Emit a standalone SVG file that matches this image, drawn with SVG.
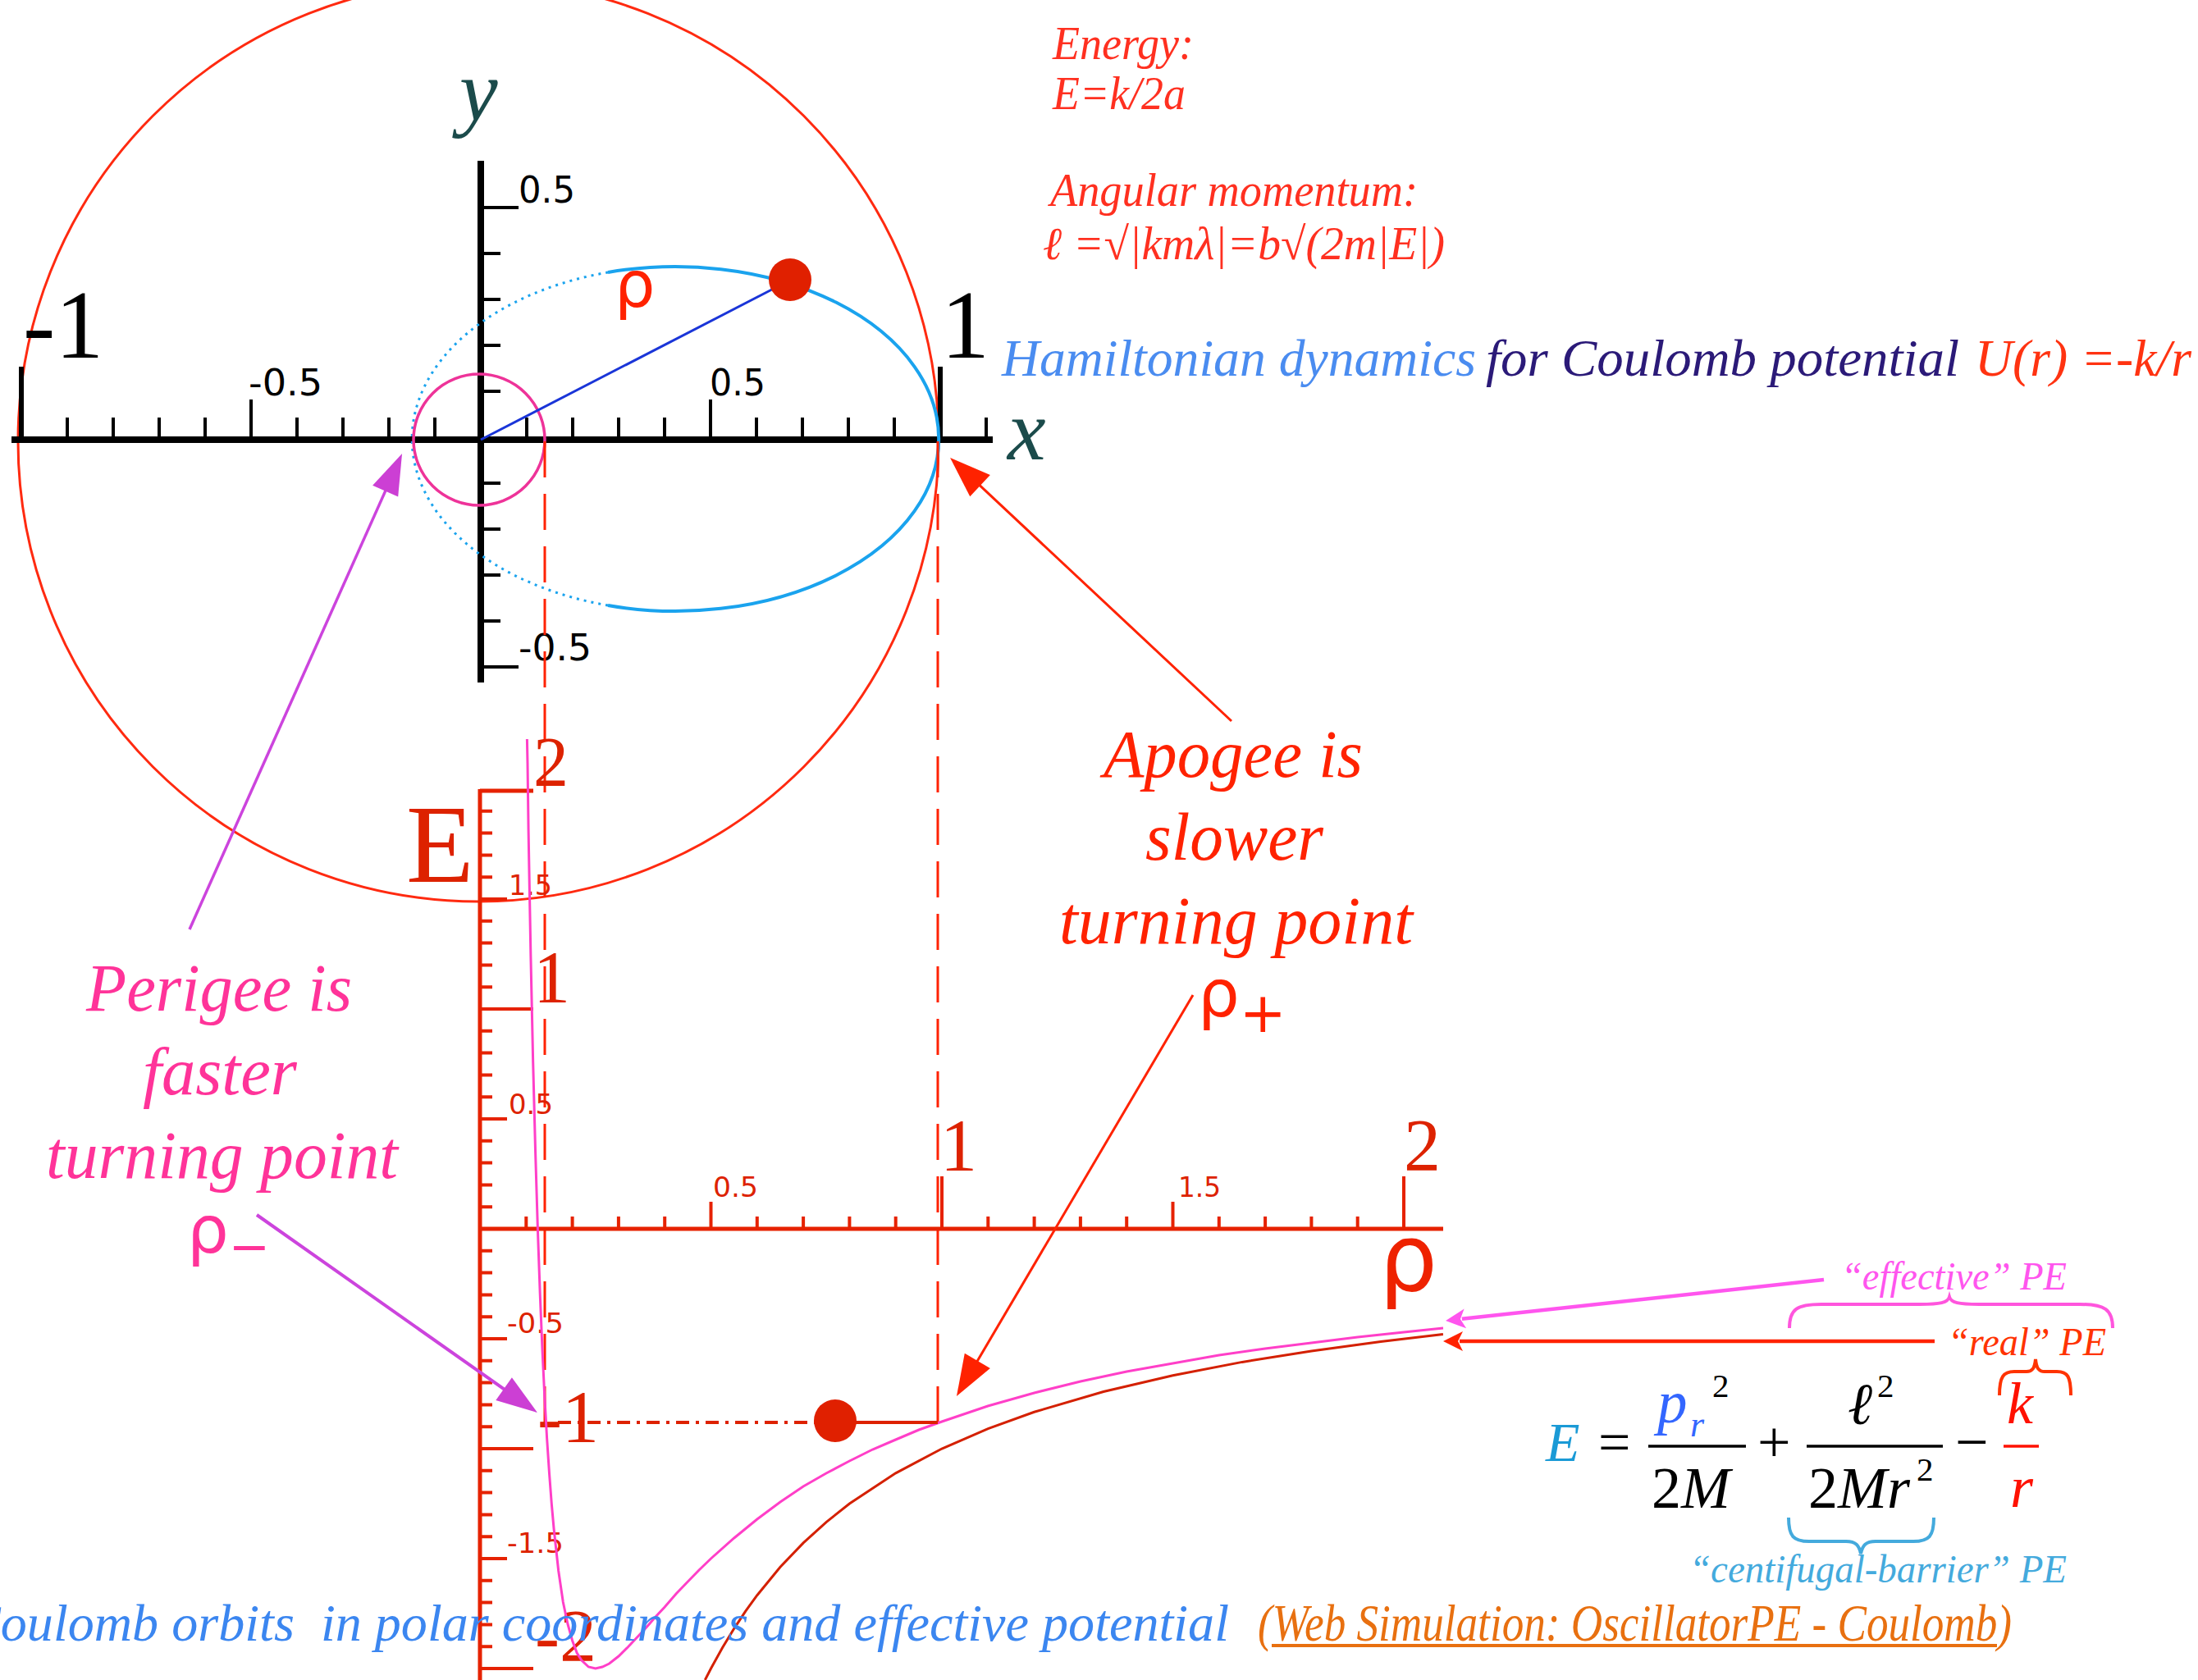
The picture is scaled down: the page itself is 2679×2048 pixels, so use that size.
<svg xmlns="http://www.w3.org/2000/svg" width="2679" height="2048" viewBox="0 0 2679 2048">
<style>
.ser{font-family:"Liberation Serif","Times New Roman",serif}
.it{font-family:"Liberation Serif","Times New Roman",serif;font-style:italic}
.sans{font-family:"DejaVu Sans","Liberation Sans",sans-serif}
.tk{fill:none;stroke:#000;stroke-width:4}
.rtk{fill:none;stroke:#e62200;stroke-width:4}
.lbl{font-family:"DejaVu Sans","Liberation Sans",sans-serif;fill:#000}
.rlbl{font-family:"DejaVu Sans","Liberation Sans",sans-serif;fill:#dd2200}
.big{font-family:"Liberation Serif","Times New Roman",serif;fill:#dd2200}
.dash{fill:none;stroke:#ff2200;stroke-width:3;stroke-dasharray:44 20}
</style>
<defs>
<marker id="hMag" markerUnits="userSpaceOnUse" markerWidth="60" markerHeight="40" viewBox="-6 -20 60 40" refX="0" refY="0" orient="auto" overflow="visible"><path d="M45,0 L-5,-17 L-5,17 Z" fill="#cc3fd4"/></marker>
<marker id="hRed" markerUnits="userSpaceOnUse" markerWidth="60" markerHeight="40" viewBox="-6 -20 60 40" refX="0" refY="0" orient="auto" overflow="visible"><path d="M45,0 L-5,-18 L-5,18 Z" fill="#ff2200"/></marker>
<marker id="sMag" markerUnits="userSpaceOnUse" markerWidth="30" markerHeight="30" viewBox="-6 -15 30 30" refX="0" refY="0" orient="auto" overflow="visible"><path d="M20,0 L-4,-12 L2,0 L-4,12 Z" fill="#ff55ee"/></marker>
<marker id="sRed" markerUnits="userSpaceOnUse" markerWidth="30" markerHeight="30" viewBox="-6 -15 30 30" refX="0" refY="0" orient="auto" overflow="visible"><path d="M20,0 L-4,-12 L2,0 L-4,12 Z" fill="#ff2200"/></marker>
</defs>
<rect width="2679" height="2048" fill="#fff"/>

<!-- Orbit plot -->
<g id="orbit-plot">
  <circle cx="583" cy="538" r="561" fill="none" stroke="#ff2a10" stroke-width="3"/>
  <path d="M14,536 H1210 M586,196 V832" stroke="#000" stroke-width="8" fill="none"/>
  <path class="tk" d="M82,532V509M138,532V509M194,532V509M250,532V509M362,532V509M418,532V509M474,532V509M530,532V509M642,532V509M698,532V509M754,532V509M810,532V509M922,532V509M978,532V509M1034,532V509M1090,532V509M1202,532V509M306,532V487M866,532V487"/>
  <path d="M26,536V447M1146,536V447" stroke="#000" stroke-width="6"/>
  <path class="tk" d="M586,309H610M586,365H610M586,421H610M586,477H610M586,589H610M586,645H610M586,701H610M586,757H610M586,253H632M586,813H632"/>
  <text class="lbl" x="632" y="247" font-size="45" textLength="69" lengthAdjust="spacingAndGlyphs">0.5</text>
  <text class="lbl" x="632" y="805" font-size="45" textLength="89" lengthAdjust="spacingAndGlyphs">-0.5</text>
  <text class="lbl" x="303" y="482" font-size="45" textLength="90" lengthAdjust="spacingAndGlyphs">-0.5</text>
  <text class="lbl" x="865" y="482" font-size="45" textLength="68" lengthAdjust="spacingAndGlyphs">0.5</text>
  <text class="ser" x="28" y="436" font-size="118" fill="#000">-1</text>
  <text class="ser" x="1147" y="436" font-size="118" fill="#000">1</text>
  <text class="it" x="560" y="146" font-size="105" fill="#1b4b4b">y</text>
  <text class="it" x="1228" y="560" font-size="105" fill="#1b4b4b">x</text>
  <path d="M741,332 A321,210 0 1 1 741,738" fill="none" stroke="#1aa3ee" stroke-width="4"/>
  <path d="M741,738 A321,210 0 0 1 741,332" fill="none" stroke="#1aa3ee" stroke-width="3" stroke-dasharray="3 6"/>
  <circle cx="584" cy="536" r="80" fill="none" stroke="#ee3399" stroke-width="3.5"/>
  <line x1="586" y1="536" x2="962" y2="342" stroke="#1a35d8" stroke-width="3"/>
  <circle cx="963" cy="341" r="26" fill="#e02000"/>
  <text class="sans" x="749" y="374" font-size="78" fill="#ff2200">ρ</text>
</g>

<!-- Potential plot -->
<g id="potential-plot">
  <path d="M664,538V1734M1143,538V1734" class="dash"/>
  <path d="M585,962V2048M585,1498H1759M585,964H650" stroke="#e62200" stroke-width="5" fill="none"/>
  <path class="rtk" d="M585,988.8H600M585,1015.6H600M585,1042.4H600M585,1069.2H600M585,1096H618M585,1122.8H600M585,1149.6H600M585,1176.4H600M585,1203.2H600M585,1230H650M585,1256.8H600M585,1283.6H600M585,1310.4H600M585,1337.2H600M585,1364H618M585,1390.8H600M585,1417.6H600M585,1444.4H600M585,1471.2H600M585,1524.8H600M585,1551.6H600M585,1578.4H600M585,1605.2H600M585,1632H618M585,1658.8H600M585,1685.6H600M585,1712.4H600M585,1739.2H600M585,1766H650M585,1792.8H600M585,1819.6H600M585,1846.4H600M585,1873.2H600M585,1900H618M585,1926.8H600M585,1953.6H600M585,1980.4H600M585,2007.2H600M585,2034H650"/>
  <path class="rtk" d="M641.3,1498V1483M697.6,1498V1483M753.9,1498V1483M810.2,1498V1483M866.5,1498V1465M922.8,1498V1483M979.1,1498V1483M1035.4,1498V1483M1091.7,1498V1483M1148,1498V1434M1204.3,1498V1483M1260.6,1498V1483M1316.9,1498V1483M1373.2,1498V1483M1429.5,1498V1465M1485.8,1498V1483M1542.1,1498V1483M1598.4,1498V1483M1654.7,1498V1483M1711,1498V1434"/>
  <text class="rlbl" x="869" y="1459" font-size="33" textLength="55" lengthAdjust="spacingAndGlyphs">0.5</text>
  <text class="rlbl" x="1436" y="1459" font-size="33" textLength="52" lengthAdjust="spacingAndGlyphs">1.5</text>
  <text class="rlbl" x="620" y="1091" font-size="33" textLength="53" lengthAdjust="spacingAndGlyphs">1.5</text>
  <text class="rlbl" x="620" y="1358" font-size="33" textLength="54" lengthAdjust="spacingAndGlyphs">0.5</text>
  <text class="rlbl" x="618" y="1625" font-size="33" textLength="69" lengthAdjust="spacingAndGlyphs">-0.5</text>
  <text class="rlbl" x="618" y="1893" font-size="33" textLength="69" lengthAdjust="spacingAndGlyphs">-1.5</text>
  <text class="big" x="650" y="958" font-size="86">2</text>
  <text class="big" x="650" y="1222" font-size="90">1</text>
  <text class="big" x="655" y="1758" font-size="90">-1</text>
  <text class="big" x="652" y="2025" font-size="90">-2</text>
  <text class="big" x="1146" y="1427" font-size="90">1</text>
  <text class="big" x="1711" y="1427" font-size="90">2</text>
  <text class="big" x="495" y="1075" font-size="135">E</text>
  <text class="sans" x="1681" y="1573" font-size="112" fill="#ee2200">ρ</text>
  <polyline fill="none" stroke="#ff3fc8" stroke-width="3" points="642.4,901 643,930 644.1,1012 645.5,1090 646.9,1166 649.7,1295 652.6,1405 655.4,1498 658.2,1577 661,1645 663.8,1703 666.6,1753 669.5,1796 672.3,1833 675.1,1864 680.7,1915 686.3,1953 692,1980 697.6,2000 703.2,2015 708.9,2024 717.3,2032 725.8,2034 734.2,2032 742.6,2028 754,2019 765.2,2008 776.5,1996 787.7,1984 799,1971 810.2,1959 824,1943 838.4,1928 852,1914 866.5,1900 894.7,1875 922.8,1852 951,1831 979.1,1812 1007,1796 1035.4,1781 1063.5,1767 1091.7,1755 1120,1743 1148,1733 1204,1714 1260.6,1698 1317,1684 1373.2,1672 1429.5,1662 1485.8,1652 1542,1644 1598.4,1637 1654.7,1630 1711,1624 1759,1619"/>
  <polyline fill="none" stroke="#d42000" stroke-width="3" points="859.3,2048 866.5,2034 880.6,2008.5 894.7,1985.3 908.7,1964.1 922.8,1944.7 951,1910.3 979.1,1880.9 1007.3,1855.3 1035.4,1833 1091.7,1795.8 1148,1766 1204.3,1741.6 1260.6,1721.3 1345,1696.5 1429.5,1676.7 1514,1660.4 1598.4,1646.9 1682.9,1635.4 1758.9,1626.5"/>
  <line x1="680" y1="1734" x2="995" y2="1734" stroke="#dd2200" stroke-width="4" stroke-dasharray="16 8 4 8"/>
  <line x1="1018" y1="1734" x2="1143" y2="1734" stroke="#dd2200" stroke-width="4"/>
  <circle cx="1018" cy="1732" r="26" fill="#e02000"/>
</g>

<!-- Annotations -->
<g id="energy-note" class="it" fill="#ff3020" font-size="56">
  <text x="1283" y="72" textLength="172" lengthAdjust="spacingAndGlyphs">Energy:</text>
  <text x="1283" y="133" textLength="162" lengthAdjust="spacingAndGlyphs">E=k/2a</text>
  <text x="1280" y="251" textLength="448" lengthAdjust="spacingAndGlyphs">Angular momentum:</text>
  <text x="1271" y="316" textLength="490" lengthAdjust="spacingAndGlyphs">ℓ =√|kmλ|=b√(2m|E|)</text>
</g>
<g id="title" class="it" font-size="63">
  <text x="1221" y="458" fill="#4a8cf0" textLength="578" lengthAdjust="spacingAndGlyphs">Hamiltonian dynamics</text>
  <text x="1811" y="458" fill="#2b1a78" textLength="577" lengthAdjust="spacingAndGlyphs">for Coulomb potential</text>
  <text x="2407" y="458" fill="#ff3311" textLength="264" lengthAdjust="spacingAndGlyphs">U(r) =-k/r</text>
</g>
<g id="perigee-label" fill="#ff3399">
  <text class="it" x="105" y="1232" font-size="82" textLength="324" lengthAdjust="spacingAndGlyphs">Perigee is</text>
  <text class="it" x="174" y="1334" font-size="82" textLength="188" lengthAdjust="spacingAndGlyphs">faster</text>
  <text class="it" x="56" y="1436" font-size="82" textLength="429" lengthAdjust="spacingAndGlyphs">turning point</text>
  <text class="sans" x="228" y="1527" font-size="80">ρ<tspan font-size="60" dy="13">−</tspan></text>
</g>
<g id="apogee-label" fill="#ff2200">
  <text class="it" x="1345" y="947" font-size="82" textLength="316" lengthAdjust="spacingAndGlyphs">Apogee is</text>
  <text class="it" x="1396" y="1048" font-size="82" textLength="217" lengthAdjust="spacingAndGlyphs">slower</text>
  <text class="it" x="1291" y="1150" font-size="82" textLength="431" lengthAdjust="spacingAndGlyphs">turning point</text>
  <text class="sans" x="1460" y="1239" font-size="80">ρ<tspan font-size="68" dy="19">+</tspan></text>
</g>
<g id="pe-labels" class="it" font-size="48">
  <text x="2244" y="1572" fill="#ff55ee" textLength="275" lengthAdjust="spacingAndGlyphs">“effective” PE</text>
  <text x="2374" y="1652" fill="#ff3300" textLength="193" lengthAdjust="spacingAndGlyphs">“real” PE</text>
  <text x="2059" y="1929" fill="#44aadd" textLength="460" lengthAdjust="spacingAndGlyphs">“centifugal-barrier” PE</text>
  <path d="M2181,1619 C2181,1596 2190,1590 2220,1590 L2340,1590 C2365,1590 2374,1588 2376,1581 C2378,1588 2387,1590 2412,1590 L2535,1590 C2565,1590 2575,1596 2575,1619" fill="none" stroke="#ff55dd" stroke-width="4"/>
  <path d="M2437,1701 C2437,1678 2442,1672 2455,1672 L2470,1672 C2477,1672 2480,1668 2481,1657 C2482,1668 2485,1672 2492,1672 L2507,1672 C2520,1672 2524,1678 2524,1701" fill="none" stroke="#ff3300" stroke-width="4"/>
  <path d="M2180,1850 C2180,1873 2186,1879 2205,1879 L2250,1879 C2262,1879 2266,1884 2268,1894 C2270,1884 2274,1879 2286,1879 L2332,1879 C2351,1879 2357,1873 2357,1850" fill="none" stroke="#44aadd" stroke-width="4"/>
</g>
<g id="equation">
  <text class="it" x="1884" y="1781" font-size="68" fill="#1a9ad6">E</text>
  <text class="ser" x="1948" y="1782" font-size="70" fill="#000">=</text>
  <text class="it" x="2020" y="1734" font-size="73" fill="#3366ff">p</text>
  <text class="it" x="2060" y="1751" font-size="44" fill="#3366ff">r</text>
  <text class="ser" x="2087" y="1703" font-size="41" fill="#000">2</text>
  <line x1="2009" y1="1763" x2="2128" y2="1763" stroke="#000" stroke-width="3.5"/>
  <text class="ser" x="2013" y="1838" font-size="72" fill="#000">2<tspan font-style="italic">M</tspan></text>
  <text class="ser" x="2142" y="1782" font-size="72" fill="#000">+</text>
  <text class="it" x="2252" y="1736" font-size="72" fill="#000">ℓ</text>
  <text class="ser" x="2288" y="1703" font-size="41" fill="#000">2</text>
  <line x1="2202" y1="1763" x2="2368" y2="1763" stroke="#000" stroke-width="3.5"/>
  <text class="ser" x="2204" y="1838" font-size="72" fill="#000">2<tspan font-style="italic">Mr</tspan></text>
  <text class="ser" x="2336" y="1805" font-size="41" fill="#000">2</text>
  <text class="ser" x="2383" y="1782" font-size="72" fill="#000">−</text>
  <line x1="2442" y1="1763" x2="2485" y2="1763" stroke="#ff1100" stroke-width="3.5"/>
  <text class="it" x="2446" y="1735" font-size="72" fill="#ff1100">k</text>
  <text class="it" x="2450" y="1837" font-size="72" fill="#ff1100">r</text>
</g>
<g id="footer">
  <text class="it" x="-42" y="2000" font-size="63" fill="#3b86f0" xml:space="preserve" textLength="1540" lengthAdjust="spacingAndGlyphs">Coulomb orbits  in polar coordinates and effective potential</text>
  <text class="it" x="1533" y="2000" font-size="63" fill="#e87010" textLength="919" lengthAdjust="spacingAndGlyphs">(Web Simulation: OscillatorPE - Coulomb)</text>
  <line x1="1550" y1="2006" x2="2434" y2="2006" stroke="#e87010" stroke-width="4"/>
</g>

<!-- Connectors -->
<g id="connectors" fill="none">
  <line x1="231" y1="1133" x2="471.7" y2="594.1" stroke="#cc44dd" stroke-width="3.5" marker-end="url(#hMag)"/>
  <line x1="313" y1="1481" x2="618.2" y2="1696.1" stroke="#cc44dd" stroke-width="4" marker-end="url(#hMag)"/>
  <line x1="1501" y1="879" x2="1190.9" y2="588.7" stroke="#ff2200" stroke-width="3" marker-end="url(#hRed)"/>
  <line x1="1454" y1="1213" x2="1188.8" y2="1663.2" stroke="#ff2200" stroke-width="3" marker-end="url(#hRed)"/>
  <line x1="2223" y1="1560" x2="1781.9" y2="1607.8" stroke="#ff55ee" stroke-width="4.5" marker-end="url(#sMag)"/>
  <line x1="2358" y1="1635" x2="1779" y2="1635" stroke="#ff2200" stroke-width="4.5" marker-end="url(#sRed)"/>
</g>
</svg>
